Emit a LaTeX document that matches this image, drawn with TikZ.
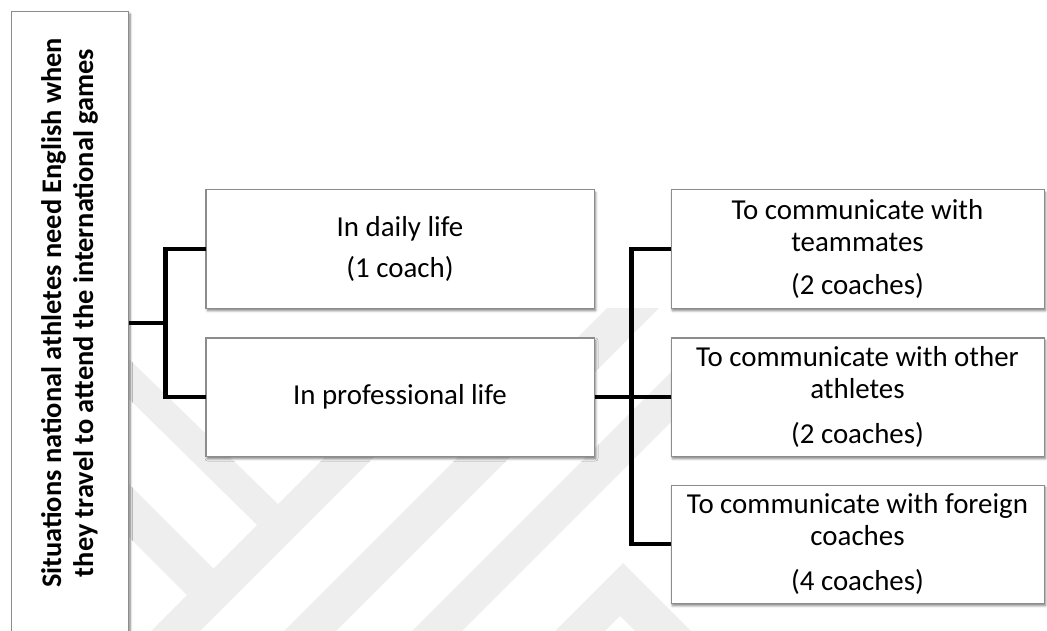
\documentclass[tikz,border=0pt]{standalone}
\usepackage{fontspec}
\setmainfont{Carlito}
\usetikzlibrary{shadows.blur,calc}
\definecolor{wmark}{RGB}{238,238,238}
\definecolor{boxline}{RGB}{140,140,140}
\begin{document}
\begin{tikzpicture}[x=1bp,y=-1bp,
  box/.style={draw=boxline, line width=1bp, fill=white, inner sep=0pt, align=center,
    font=\fontsize{29}{32}\selectfont,
    blur shadow={shadow xshift=1.5bp, shadow yshift=-2.5bp, shadow blur steps=5,
      shadow blur radius=2.5bp, shadow opacity=55}},
  midbox/.style={box, minimum width=388bp, minimum height=118bp},
  rightbox/.style={box, minimum width=373bp, minimum height=118bp},
  conn/.style={draw=black, line width=4.5bp}
]
\useasboundingbox (0,0) rectangle (1047,631);
\clip (0,0) rectangle (1047,631);

% faint background emblem
\fill[wmark] (128,358) -- (278,504) -- (257,525) -- (128,398) -- cycle;
\fill[wmark] (128,483) -- (213.5,568.5) -- (187,595) -- (128,536) -- cycle;
\fill[wmark] (151,631) -- (432,350) -- (481,350) -- (200,631) -- cycle;
\fill[wmark] (284,631) -- (607,308) -- (659,308) -- (336,631) -- cycle;
\fill[wmark] (412,631) -- (693,350) -- (743,350) -- (462,631) -- cycle;
\fill[wmark] (555,631) -- (623,563) -- (691,631) -- (635,631) -- (620,616) -- (605,631) -- cycle;

% root box, running off the bottom edge
\node[box, minimum width=117bp, minimum height=649bp, anchor=north west] (root) at (11,11) {};
\node[rotate=90, align=center, font=\bfseries\fontsize{28.5}{32}\selectfont] (rootlabel) at (69.5,313)
  {Situations national athletes need English when\\they travel to attend the international games};

% second level
\node[midbox] (daily) at (400,249) {In daily life\\[10bp](1 coach)};
\node[midbox] (prof) at (400,397) {In professional life};

% third level
\node[rightbox] (tm) at (857.5,249) {To communicate with\\teammates\\[12bp](2 coaches)};
\node[rightbox] (oa) at (857.5,397) {To communicate with other\\athletes\\[13bp](2 coaches)};
\node[rightbox] (fc) at (857.5,544) {To communicate with foreign\\coaches\\[13bp](4 coaches)};

% connectors
\coordinate (j1) at ($(daily.west)!0.5!(prof.west)+(-40,0)$);
\draw[conn] (daily.west) -- ++(-40,0) |- (prof.west);
\draw[conn] (root.east |- j1) -- (j1);
\draw[conn] (tm.west) -- ++(-39,0) |- (fc.west);
\draw[conn] (prof.east) -- (oa.west);
\end{tikzpicture}
\end{document}
